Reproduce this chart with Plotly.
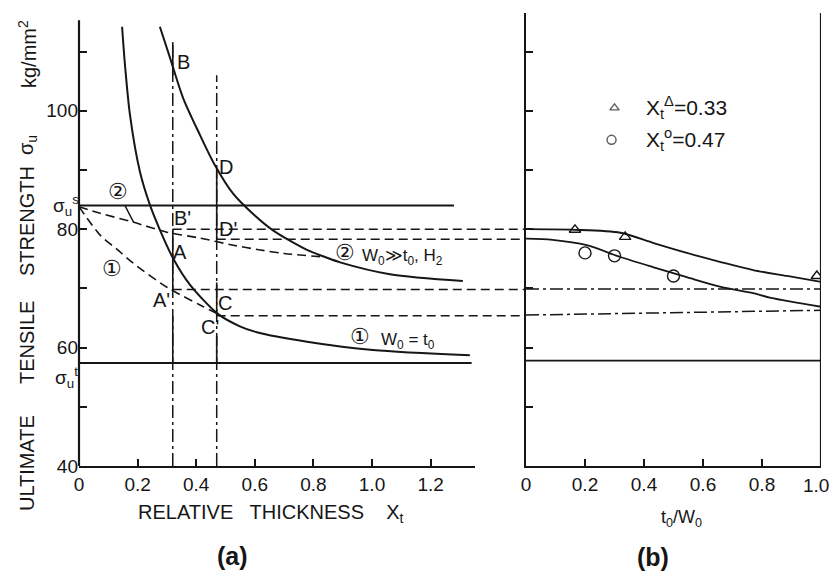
import plotly.graph_objects as go

# ---------------- data ----------------
# panel (a): ultimate tensile strength vs relative thickness X_t
xa_curve1 = [0.147, 0.157, 0.174, 0.208, 0.242, 0.276, 0.321, 0.379, 0.474, 0.549, 0.607, 0.778, 1.003, 1.334]
ya_curve1 = [114.2, 107.7, 99.3, 89.7, 84.1, 79.9, 75.1, 70.6, 65.7, 63.6, 62.6, 61.0, 59.6, 58.7]

xa_curve2 = [0.276, 0.311, 0.355, 0.413, 0.464, 0.526, 0.600, 0.662, 0.778, 0.840, 0.891, 1.061, 1.31]
ya_curve2 = [114.2, 108.9, 102.2, 95.9, 90.8, 86.0, 82.3, 79.8, 76.5, 75.3, 74.4, 72.4, 71.25]

xa_dash2 = [0.0, 0.072, 0.184, 0.30, 0.413, 0.526, 0.618, 0.70, 0.84]
ya_dash2 = [83.8, 82.7, 81.2, 79.5, 78.5, 77.3, 76.5, 75.9, 75.3]

xa_dash1 = [0.0, 0.072, 0.13, 0.184, 0.30, 0.413, 0.474]
ya_dash1 = [83.8, 79.0, 76.6, 74.3, 70.2, 67.2, 65.7]

sigma_s = 84.0
sigma_s_end = 1.28
sigma_t = 57.4
sigma_t_end = 1.34
sigma_t_b = 57.8

xt_a = 0.32          # X_t = 0.33 line
xt_c = 0.47          # X_t = 0.47 line
xt_a_top = 111.6
xt_c_top = 106.0
xt_a_solid = [(111.6, 106.0), (80.0, 69.8), (65.3, 57.4)]
xt_c_solid = [(90.0, 78.3), (71.0, 65.4), (62.0, 57.4)]

# horizontal projections (start X_t, level)
proj_start = [0.32, 0.47, 0.32, 0.47]
proj_level = [80.0, 78.3, 69.8, 65.4]

# panel (b): strength vs t0/W0
xb_tri_curve = [0.0, 0.166, 0.32, 0.43, 0.545, 0.657, 0.77, 0.885, 1.0]
yb_tri_curve = [80.0, 79.9, 79.4, 77.7, 76.0, 74.5, 73.1, 72.1, 71.1]
xb_cir_curve = [0.0, 0.09, 0.206, 0.32, 0.43, 0.545, 0.657, 0.77, 0.83, 1.0]
yb_cir_curve = [78.4, 78.2, 77.3, 75.3, 73.6, 71.9, 70.3, 69.2, 68.4, 66.9]
xb_tri = [0.166, 0.336, 0.986]
yb_tri = [79.9, 78.7, 72.1]
xb_cir = [0.20, 0.30, 0.50]
yb_cir = [76.0, 75.5, 72.1]
xb_dd = [0.0, 1.0]
yb_dd1 = [69.9, 69.9]
yb_dd2 = [65.5, 66.3]

ya_ticks = [40, 50, 60, 70, 80, 90, 100, 110]
ya_ticktext = ["40", "", "60", "", "80", "", "100", ""]
xa_ticks = [0, 0.2, 0.4, 0.6, 0.8, 1.0, 1.2]
xa_ticktext = ["0", "0.2", "0.4", "0.6", "0.8", "1.0", "1.2"]
xb_ticks = [0, 0.2, 0.4, 0.6, 0.8, 1.0]
xb_ticktext = ["0", "0.2", "0.4", "0.6", "0.8", ""]
xb_last_label = "1.0"

# ---------------- layout geometry ----------------
W, H = 831, 577
L, R, T, B = 79, 10, 13, 111
PW = W - L - R
PH = H - T - B
YR = [40, 40 + PH / 5.92]
XA_RANGE = [0, 396 / 293]
XA_DOM = [0, 396 / PW]
XB_RANGE = [0, 1.0]
XB_DOM = [447 / PW, 1.0]

def pxx(p):
    return (p - L) / PW

def pxy(p):
    return (H - B - p) / PH

def xa_paper(x):
    return XA_DOM[0] + (x - XA_RANGE[0]) / (XA_RANGE[1] - XA_RANGE[0]) * (XA_DOM[1] - XA_DOM[0])

INK = "#161616"
FONT = "Liberation Sans"
DASH = "9px,5px"
DASHDOT = "13px,4px,3px,4px"

fig = go.Figure()

def line(x, y, width=1.6, dash="solid", xa="x", ya="y", smooth=True):
    fig.add_trace(go.Scatter(x=x, y=y, mode="lines", xaxis=xa, yaxis=ya,
                             line=dict(color=INK, width=width, dash=dash,
                                       shape="spline" if smooth else "linear", smoothing=0.8),
                             hoverinfo="skip", showlegend=False))

# panel (a)
line(xa_curve1, ya_curve1, 2.0)
line(xa_curve2, ya_curve2, 2.0)
line(xa_dash2, ya_dash2, 1.6, DASH)
line(xa_dash1, ya_dash1, 1.6, DASH)
line([0, sigma_s_end], [sigma_s, sigma_s], 2.0, smooth=False)
line([0, sigma_t_end], [sigma_t, sigma_t], 2.0, smooth=False)
line([xt_a, xt_a], [40, xt_a_top], 1.5, DASHDOT, smooth=False)
line([xt_c, xt_c], [40, xt_c_top], 1.5, DASHDOT, smooth=False)
for y0, y1 in xt_a_solid:
    line([xt_a, xt_a], [y0, y1], 1.6, smooth=False)
for y0, y1 in xt_c_solid:
    line([xt_c, xt_c], [y0, y1], 1.6, smooth=False)

# panel (b)
line(xb_tri_curve, yb_tri_curve, 1.8, xa="x2", ya="y2")
line(xb_cir_curve, yb_cir_curve, 1.8, xa="x2", ya="y2")
line(xb_dd, yb_dd1, 1.5, DASHDOT, xa="x2", ya="y2", smooth=False)
line(xb_dd, yb_dd2, 1.5, DASHDOT, xa="x2", ya="y2", smooth=False)
line(xb_dd, [sigma_t_b, sigma_t_b], 1.8, xa="x2", ya="y2", smooth=False)
line([1.0, 1.0], YR, 2.2, xa="x2", ya="y2", smooth=False)

fig.add_trace(go.Scatter(x=xb_tri, y=yb_tri, mode="markers", xaxis="x2", yaxis="y2",
                         marker=dict(symbol="triangle-up-open", size=10, color=INK, line=dict(width=1.4)),
                         hoverinfo="skip", showlegend=False))
fig.add_trace(go.Scatter(x=xb_cir, y=yb_cir, mode="markers", xaxis="x2", yaxis="y2",
                         marker=dict(symbol="circle-open", size=12, color=INK, line=dict(width=1.4)),
                         hoverinfo="skip", showlegend=False))
# legend symbols
fig.add_trace(go.Scatter(x=[0.30, 0.29], y=[100.5, 95.1], mode="markers", xaxis="x2", yaxis="y2",
                         marker=dict(symbol=["triangle-up-open", "circle-open"], size=[8, 9], color=INK,
                                     line=dict(width=1.4)),
                         hoverinfo="skip", showlegend=False))

# horizontal projections from panel (a) to panel (b)
shapes = []
for xs, lv in zip(proj_start, proj_level):
    shapes.append(dict(type="line", xref="paper", yref="paper",
                       x0=xa_paper(xs), x1=XB_DOM[0],
                       y0=(lv - YR[0]) / (YR[1] - YR[0]), y1=(lv - YR[0]) / (YR[1] - YR[0]),
                       line=dict(color=INK, width=1.5, dash=DASH)))
# left axis line of panel (a)
shapes.append(dict(type="line", xref="paper", yref="paper", x0=0, x1=0, y0=0,
                   y1=(115.3 - YR[0]) / (YR[1] - YR[0]), line=dict(color=INK, width=2.2)))
fig.update_layout(shapes=shapes)

ann = []

def txt(x, y, s, size=19, xref="x", yref="y", angle=0, xanchor="center", bold=False, xshift=0):
    ann.append(dict(x=x, y=y, xref=xref, yref=yref, text=("<b>%s</b>" % s) if bold else s,
                    showarrow=False, textangle=angle, xanchor=xanchor, yanchor="middle", xshift=xshift,
                    font=dict(family=FONT, size=size, color=INK)))

# point labels
txt(0.355, 108.2, "B", 20)
txt(0.502, 90.5, "D", 20)
txt(0.352, 81.9, "B'", 20)
txt(0.509, 80.0, "D'", 20)
txt(0.345, 76.1, "A", 20)
txt(0.283, 68.0, "A'", 20)
txt(0.498, 67.5, "C", 20)
txt(0.447, 63.5, "C'", 20)
txt(0.113, 73.4, "①", 22)
txt(0.908, 76.1, "②", 22)
txt(0.96, 75.3, "W<sub>0</sub>≫t<sub>0</sub>, H<sub>2</sub>", 17, xanchor="left")
txt(0.959, 61.8, "①", 22)
txt(1.025, 61.2, "W<sub>0</sub> = t<sub>0</sub>", 17, xanchor="left")
# ② with leader to dashed curve
ann.append(dict(x=0.186, y=81.2, xref="x", yref="y", text="②", showarrow=True, arrowhead=0,
                arrowwidth=1.4, arrowcolor=INK, ax=-16, ay=-31, axref="pixel", ayref="pixel",
                font=dict(family=FONT, size=22, color=INK)))
# sigma labels
txt(pxx(66), pxy(205), "σ<sub>u</sub><sup>s</sup>", 19, xref="paper", yref="paper")
txt(pxx(66), pxy(377), "σ<sub>u</sub><sup>t</sup>", 19, xref="paper", yref="paper")
# legend text panel (b)
txt(0.40, 100.5, "X<sub>t</sub><sup>Δ</sup>=0.33", 21, xref="x2", yref="y2", xanchor="left")
txt(0.40, 95.1, "X<sub>t</sub><sup>o</sup>=0.47", 21, xref="x2", yref="y2", xanchor="left")
# last tick label of panel (b), nudged inside the page
ann.append(dict(x=1.0, y=0, xref="x2", yref="paper", text=xb_last_label, showarrow=False,
                xanchor="center", yanchor="top", xshift=-5, yshift=-7,
                font=dict(family=FONT, size=19, color=INK)))
# y title pieces
for s, yc in [("ULTIMATE", 463), ("TENSILE", 343), ("STRENGTH", 221), ("σ<sub>u</sub>", 145),
              ("kg/mm<sup>2</sup>", 54)]:
    txt(pxx(27), pxy(yc), s, 20, xref="paper", yref="paper", angle=-90)
# x titles
txt(pxx(271), pxy(513), "RELATIVE   THICKNESS    X<sub>t</sub>", 20, xref="paper", yref="paper")
txt(pxx(681), pxy(518), "t<sub>0</sub>/W<sub>0</sub>", 18, xref="paper", yref="paper")
txt(pxx(232), pxy(556), "(a)", 25, xref="paper", yref="paper", bold=True)
txt(pxx(653), pxy(557), "(b)", 25, xref="paper", yref="paper", bold=True)

axis_common = dict(showgrid=False, zeroline=False, ticks="inside", tickcolor=INK, tickwidth=1.5,
                   tickfont=dict(family=FONT, size=19, color=INK), linecolor=INK, linewidth=2.2,
                   automargin=False)

fig.update_layout(
    width=W, height=H,
    margin=dict(l=L, r=R, t=T, b=B, pad=0, autoexpand=False),
    paper_bgcolor="white", plot_bgcolor="white",
    annotations=ann,
    xaxis=dict(domain=XA_DOM, range=XA_RANGE, anchor="y", showline=True, tickvals=xa_ticks,
               ticktext=xa_ticktext, ticklen=7, **axis_common),
    yaxis=dict(range=YR, anchor="x", showline=False, tickvals=ya_ticks, ticktext=ya_ticktext,
               ticklen=8, **axis_common),
    xaxis2=dict(domain=XB_DOM, range=XB_RANGE, anchor="y2", showline=True, tickvals=xb_ticks,
                ticktext=xb_ticktext, ticklen=7, **axis_common),
    yaxis2=dict(range=YR, anchor="x2", showline=True, tickvals=ya_ticks, showticklabels=False,
                ticklen=7, **axis_common),
)

fig.write_html("out.html")
